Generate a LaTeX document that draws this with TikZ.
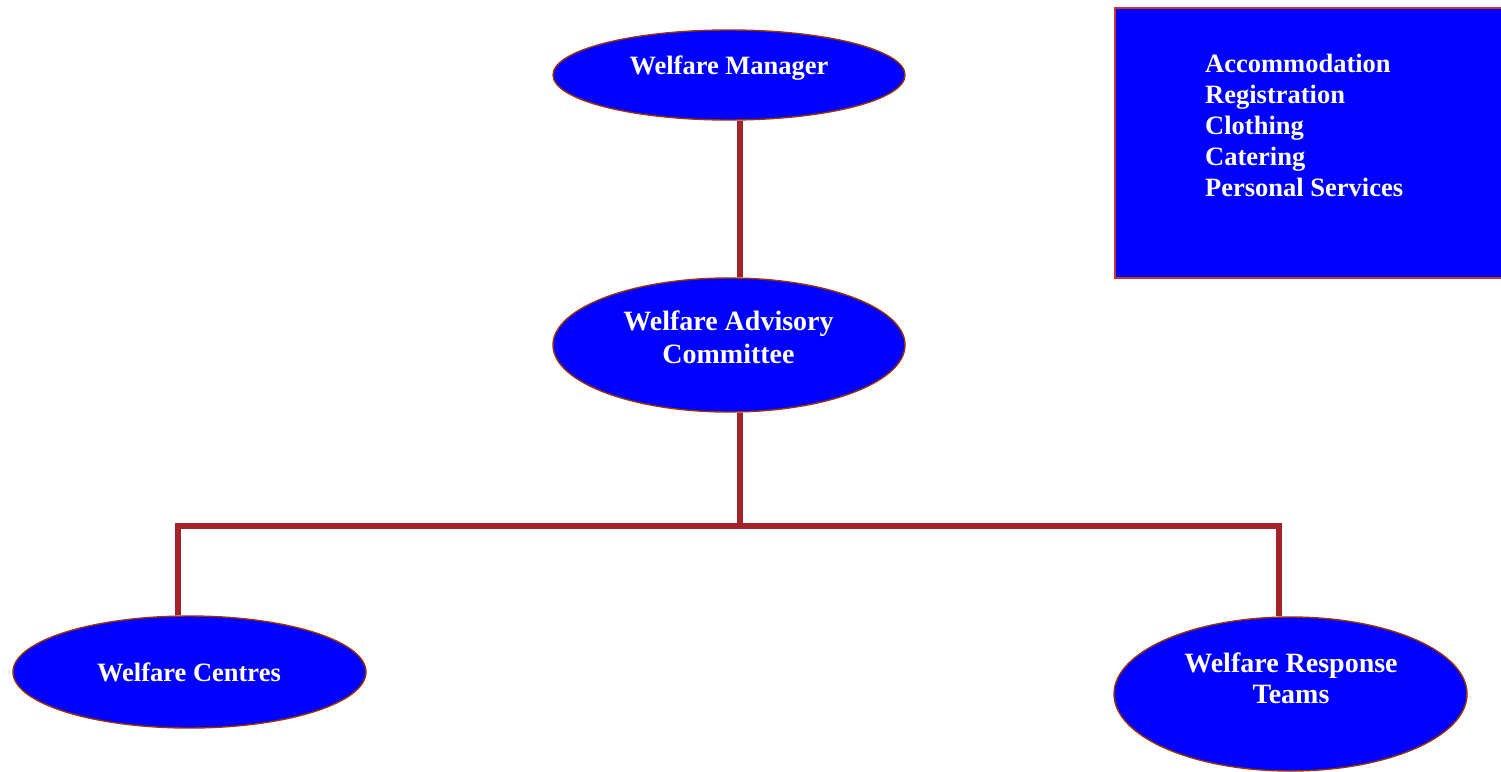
\documentclass[tikz,border=0pt]{standalone}
\usepackage{fontspec}
\setmainfont{Liberation Serif}
\usetikzlibrary{shapes.geometric}
\definecolor{fillblue}{HTML}{0000FF}
\definecolor{rimbrown}{HTML}{993300}
\definecolor{linkred}{HTML}{A3232B}
\definecolor{boxrim}{HTML}{C0392B}
\begin{document}
\begin{tikzpicture}[x=1pt,y=-1pt,
  unit/.style={ellipse,draw=rimbrown,line width=1.4pt,fill=fillblue,inner sep=0pt},
  label/.style={text=white,font=\fontsize{26.5}{31}\selectfont\bfseries,inner sep=0pt},
  biglabel/.style={text=white,font=\fontsize{28}{33}\selectfont\bfseries,inner sep=0pt,align=center},
  link/.style={draw=linkred,line width=5.5pt}]
\useasboundingbox (0,0) rectangle (1501,771);

% duties panel
\node[draw=boxrim,line width=2pt,fill=fillblue,minimum width=400pt,minimum height=270pt,
      anchor=north west,inner sep=0pt] (duties) at (1114,7) {};
\node[label,anchor=base west] (d1) at (1205,72.5) {Accommodation};
\node[label,anchor=base west] (d2) at (1205,103.5) {Registration};
\node[label,anchor=base west] (d3) at (1205,134.5) {Clothing};
\node[label,anchor=base west] (d4) at (1205,165.5) {Catering};
\node[label,anchor=base west] (d5) at (1205,196.5) {Personal Services};

% hierarchy units
\node[unit,minimum width=352pt,minimum height=90pt] (mgr) at (729,75) {};
\node[unit,minimum width=352pt,minimum height=134pt] (adv) at (729,345) {};
\node[unit,minimum width=353pt,minimum height=112pt] (ctr) at (189.5,672) {};
\node[unit,minimum width=353pt,minimum height=154pt] (rsp) at (1290.5,694) {};

\node[label,anchor=base] (mgrtxt) at (729,74) {Welfare Manager};
\node[biglabel,anchor=base] (advtxt1) at (728.5,330) {Welfare Advisory};
\node[biglabel,anchor=base] (advtxt2) at (728.5,363) {Committee};
\node[label,anchor=base] (ctrtxt) at (189,681) {Welfare Centres};
\node[biglabel,anchor=base] (rsptxt1) at (1291,672) {Welfare Response};
\node[biglabel,anchor=base] (rsptxt2) at (1291,703) {Teams};

% connectors
\coordinate (split) at (740,526);
\draw[link] (mgr.south -| split) -- (adv.north -| split);
\draw[link] (adv.south -| split) -- (split);
\draw[link,line join=miter] (ctr.north -| 178,0) -- (178,526) -- (1279,526) -- (rsp.north -| 1279,0);
\end{tikzpicture}
\end{document}
